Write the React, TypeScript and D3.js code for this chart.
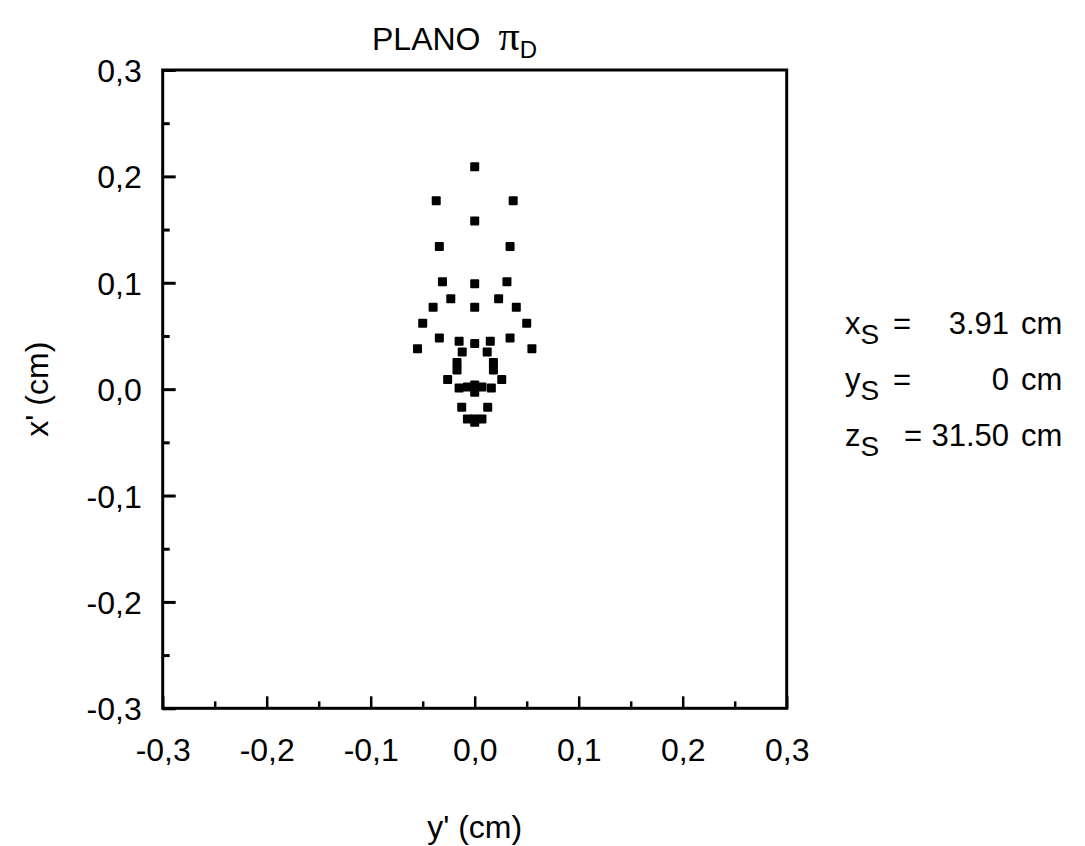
import React, { useEffect, useRef } from "react";
import * as d3 from "d3";

// y' (horizontal axis, cm) and x' (vertical axis, cm) of each spot
const yPrime = [
  0,
  -0.037, 0.037,
  0,
  -0.034, 0.034,
  -0.031, 0, 0.031,
  -0.023, 0.023,
  -0.040, 0, 0.040,
  -0.050, 0.050,
  -0.034, 0.034,
  -0.015, 0, 0.015,
  -0.055, 0.055,
  -0.012, 0.012,
  -0.017, -0.017, 0.018, 0.018,
  -0.026, 0.026,
  -0.015, -0.007, 0, 0, 0.007, 0.016,
  -0.0125, 0.0125,
  -0.007, 0, 0.007, 0,
];
const xPrime = [
  0.209,
  0.177, 0.177,
  0.158,
  0.134, 0.134,
  0.101, 0.099, 0.101,
  0.085, 0.085,
  0.077, 0.077, 0.077,
  0.062, 0.062,
  0.048, 0.048,
  0.045, 0.043, 0.045,
  0.038, 0.038,
  0.035, 0.035,
  0.025, 0.018, 0.025, 0.018,
  0.009, 0.009,
  0.001, 0.002, 0.004, -0.003, 0.002, 0.001,
  -0.017, -0.017,
  -0.028, -0.028, -0.028, -0.031,
];

const majorTicks = [-0.3, -0.2, -0.1, 0, 0.1, 0.2, 0.3];
const minorTicks = [-0.25, -0.15, -0.05, 0.05, 0.15, 0.25];
const tickLabels = ["-0,3", "-0,2", "-0,1", "0,0", "0,1", "0,2", "0,3"];

const paramNames = ["x", "y", "z"];
const paramValues = ["3.91", "0", "31.50"];

export default function App() {
  const ref = useRef<SVGSVGElement>(null);

  useEffect(() => {
    const svg = d3.select(ref.current);
    svg.selectAll("*").remove();

    const left = 162.7, right = 786.7, top = 70, bottom = 708.3;
    const x = d3.scaleLinear().domain([-0.3, 0.3]).range([left, right]);
    const y = d3.scaleLinear().domain([-0.3, 0.3]).range([bottom, top]);
    const font = "'Liberation Sans', Arial, Helvetica, sans-serif";
    const fs = 32;

    // frame
    svg.append("rect")
      .attr("x", left).attr("y", top)
      .attr("width", right - left).attr("height", bottom - top)
      .attr("fill", "none").attr("stroke", "#000").attr("stroke-width", 3);

    // left axis ticks (inward)
    const gL = svg.append("g").attr("transform", `translate(${left},0)`);
    gL.call(
      d3.axisLeft(y).tickValues(majorTicks).tickSizeInner(-13).tickSizeOuter(0)
        .tickFormat((d, i) => tickLabels[i])
    );
    gL.select(".domain").remove();
    gL.selectAll(".tick line").attr("stroke", "#000").attr("stroke-width", 3);
    gL.selectAll(".tick text")
      .attr("font-family", font).attr("font-size", fs).attr("fill", "#000")
      .attr("x", -21).attr("dy", "0.36em");
    const gLm = svg.append("g").attr("transform", `translate(${left},0)`);
    gLm.call(d3.axisLeft(y).tickValues(minorTicks).tickSizeInner(-7).tickSizeOuter(0).tickFormat(() => ""));
    gLm.select(".domain").remove();
    gLm.selectAll(".tick line").attr("stroke", "#000").attr("stroke-width", 3);

    // bottom axis ticks (inward)
    const gB = svg.append("g").attr("transform", `translate(0,${bottom})`);
    gB.call(
      d3.axisBottom(x).tickValues(majorTicks).tickSizeInner(-12).tickSizeOuter(0)
        .tickFormat((d, i) => tickLabels[i])
    );
    gB.select(".domain").remove();
    gB.selectAll(".tick line").attr("stroke", "#000").attr("stroke-width", 2.5);
    gB.selectAll(".tick text")
      .attr("font-family", font).attr("font-size", fs).attr("fill", "#000")
      .attr("y", 53).attr("dy", "0");
    const gBm = svg.append("g").attr("transform", `translate(0,${bottom})`);
    gBm.call(d3.axisBottom(x).tickValues(minorTicks).tickSizeInner(-7).tickSizeOuter(0).tickFormat(() => ""));
    gBm.select(".domain").remove();
    gBm.selectAll(".tick line").attr("stroke", "#000").attr("stroke-width", 2.5);

    // points
    const s = 9;
    svg.append("g").selectAll("rect")
      .data(yPrime.map((v, i) => [v, xPrime[i]]))
      .join("rect")
      .attr("x", (d) => x(d[0]) - s / 2)
      .attr("y", (d) => y(d[1]) - s / 2)
      .attr("width", s).attr("height", s)
      .attr("rx", 1)
      .attr("fill", "#000");

    // title
    const title = svg.append("text")
      .attr("x", 372).attr("y", 50)
      .attr("font-family", font).attr("font-size", fs).attr("fill", "#000");
    title.append("tspan").text("PLANO");
    title.append("tspan").attr("dx", 18)
      .attr("font-family", "'Liberation Serif', 'DejaVu Serif', serif")
      .attr("font-size", 42).text("π");
    title.append("tspan").attr("dy", 8).attr("font-size", 24).text("D");

    // axis labels
    svg.append("text")
      .attr("x", x(0)).attr("y", 838).attr("text-anchor", "middle")
      .attr("font-family", font).attr("font-size", fs).attr("fill", "#000")
      .text("y' (cm)");
    svg.append("text")
      .attr("transform", `translate(48,${y(0)}) rotate(-90)`)
      .attr("text-anchor", "middle")
      .attr("font-family", font).attr("font-size", fs).attr("fill", "#000")
      .text("x' (cm)");

    // parameters
    const eqX = [893, 893, 904];
    paramNames.forEach((n, i) => {
      const by = 334 + i * 56;
      const t = svg.append("text").attr("x", 845).attr("y", by)
        .attr("font-family", font).attr("font-size", 31).attr("fill", "#000");
      t.append("tspan").text(n);
      t.append("tspan").attr("dy", 10).attr("font-size", 28).text("S");
      svg.append("text").attr("x", eqX[i]).attr("y", by)
        .attr("font-family", font).attr("font-size", 31).attr("fill", "#000")
        .text("=");
      svg.append("text").attr("x", 1009).attr("y", by).attr("text-anchor", "end")
        .attr("font-family", font).attr("font-size", 31).attr("fill", "#000")
        .text(paramValues[i]);
      svg.append("text").attr("x", 1021).attr("y", by)
        .attr("font-family", font).attr("font-size", 31).attr("fill", "#000")
        .text("cm");
    });
  }, []);

  return (
    <svg
      ref={ref}
      width={1085}
      height={846}
      style={{ position: "absolute", left: 0, top: 0, background: "#fff" }}
    />
  );
}
